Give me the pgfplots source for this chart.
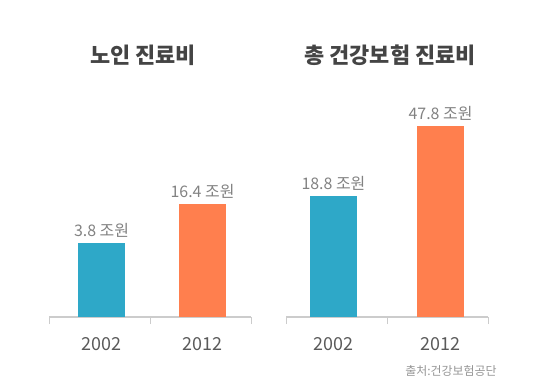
\documentclass[border=0pt]{standalone}
\usepackage{fontspec}
\setmainfont{Noto Sans CJK KR}
\usepackage{pgfplots}
\pgfplotsset{compat=1.18}
\definecolor{barblue}{RGB}{46,168,200}
\definecolor{barorange}{RGB}{255,127,78}
\definecolor{axgray}{RGB}{204,204,204}
\definecolor{titlegray}{RGB}{68,68,68}
\definecolor{yeargray}{RGB}{90,90,90}
\definecolor{valgray}{RGB}{130,130,130}
\definecolor{srcgray}{RGB}{150,150,150}
\pgfplotsset{
  panel/.style={
    scale only axis, width=202bp, height=200bp,
    xmin=-0.5, xmax=1.5, ymin=0, ymax=200,
    axis y line=none, axis x line*=bottom,
    axis line style={axgray, line width=1.2pt, -},
    xtick={-0.5,0.5,1.5}, xticklabels={},
    tick align=outside, major tick length=7bp,
    tick style={axgray, line width=1pt},
    ybar, bar width=47bp, clip=false,
  }
}
\begin{document}
\begin{tikzpicture}[x=1bp,y=1bp]
\path (0,0) rectangle (540,389);
% left panel: heights as drawn in the picture (pixels above baseline)
\begin{axis}[panel, at={(49bp,72bp)}, anchor=south west]
\addplot[fill=barblue, draw=none, bar shift=0pt] coordinates {(0.02,74)};
\addplot[fill=barorange, draw=none, bar shift=0pt] coordinates {(1.02,113)};
\node[anchor=base, font=\fontsize{16}{18}\selectfont, text=valgray] at (axis cs:0.02,74) [yshift=7bp] {3.8 조원};
\node[anchor=base, font=\fontsize{16}{18}\selectfont, text=valgray] at (axis cs:1.02,113) [yshift=7bp] {16.4 조원};
\node[anchor=base, font=\fontsize{18}{20}\selectfont, text=yeargray] at (axis cs:0.02,0) [yshift=-33bp] {2002};
\node[anchor=base, font=\fontsize{18}{20}\selectfont, text=yeargray] at (axis cs:1.02,0) [yshift=-33bp] {2012};
\end{axis}
\begin{axis}[panel, at={(286bp,72bp)}, anchor=south west]
\addplot[fill=barblue, draw=none, bar shift=0pt] coordinates {(-0.03,121)};
\addplot[fill=barorange, draw=none, bar shift=0pt] coordinates {(1.03,191)};
\node[anchor=base, font=\fontsize{16}{18}\selectfont, text=valgray] at (axis cs:-0.03,121) [yshift=7bp] {18.8 조원};
\node[anchor=base, font=\fontsize{16}{18}\selectfont, text=valgray] at (axis cs:1.03,191) [yshift=7bp] {47.8 조원};
\node[anchor=base, font=\fontsize{18}{20}\selectfont, text=yeargray] at (axis cs:-0.03,0) [yshift=-33bp] {2002};
\node[anchor=base, font=\fontsize{18}{20}\selectfont, text=yeargray] at (axis cs:1.03,0) [yshift=-33bp] {2012};
\end{axis}
\node[font=\bfseries\fontsize{22}{25}\selectfont, text=titlegray] at (143,334) {노인 진료비};
\node[font=\bfseries\fontsize{22}{25}\selectfont, text=titlegray] at (390,334) {총 건강보험 진료비};
\node[font=\fontsize{12}{14}\selectfont, text=srcgray] at (451,18) {출처:건강보험공단};
\end{tikzpicture}
\end{document}
